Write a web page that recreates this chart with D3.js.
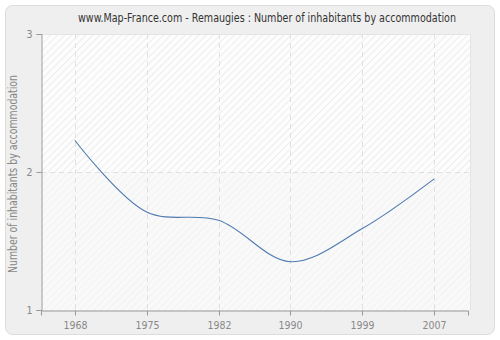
<!DOCTYPE html>
<html><head><meta charset="utf-8">
<script src="https://cdn.jsdelivr.net/npm/d3@7"></script>
<style>body{margin:0;background:#fff;}svg{display:block;font-family:"DejaVu Sans Condensed","DejaVu Sans",sans-serif;}</style>
</head><body><svg id="c" width="500" height="340"></svg>
<script>
const years = ["1968","1975","1982","1990","1999","2007"];
const values = [2.23, 1.71, 1.65, 1.35, 1.59, 1.95];
const yTicks = [1, 2, 3];
const title = "www.Map-France.com - Remaugies : Number of inhabitants by accommodation";
const yLabel = "Number of inhabitants by accommodation";

const svg = d3.select("#c");
const L = 41, R = 471, T = 34, B = 310;

const defs = svg.append("defs");
const p1 = defs.append("pattern").attr("id","h1").attr("patternUnits","userSpaceOnUse")
  .attr("width",5).attr("height",5).attr("patternTransform","rotate(45)");
p1.append("rect").attr("width",5).attr("height",5).attr("fill","#fdfdfd");
p1.append("line").attr("x1",0).attr("y1",0).attr("x2",0).attr("y2",5).attr("stroke","#e8e8e8").attr("stroke-width",1.5);
const p2 = defs.append("pattern").attr("id","h2").attr("patternUnits","userSpaceOnUse")
  .attr("width",5).attr("height",5).attr("patternTransform","rotate(45)");
p2.append("rect").attr("width",5).attr("height",5).attr("fill","#f9f9f9");
p2.append("line").attr("x1",0).attr("y1",0).attr("x2",0).attr("y2",5).attr("stroke","#f0f0f0").attr("stroke-width",1.5);

svg.append("rect").attr("x",5.5).attr("y",5.5).attr("width",489).attr("height",329)
  .attr("rx",7).attr("fill","#efefef").attr("stroke","#dcdcdc");

const x = d3.scalePoint().domain(years).range([L, R-3]).padding(0.47);
const y = d3.scaleLinear().domain([1, 3]).range([B, T]);

svg.append("rect").attr("x",L).attr("y",y(3)).attr("width",R-L).attr("height",y(2)-y(3)).attr("fill","url(#h1)");
svg.append("rect").attr("x",L).attr("y",y(2)).attr("width",R-L).attr("height",y(1)-y(2)).attr("fill","url(#h2)");
svg.append("path").attr("d",`M${L},${T+0.5}H${R-0.5}V${B}`).attr("fill","none").attr("stroke","#e4e4e4");

// grid
svg.append("g").selectAll("line").data(years).join("line")
  .attr("x1",d=>Math.round(x(d))+0.5).attr("x2",d=>Math.round(x(d))+0.5).attr("y1",T).attr("y2",B)
  .attr("stroke","#e0e0e0").attr("stroke-dasharray","5,4");
svg.append("g").selectAll("line").data(yTicks.filter(v=>v>1&&v<3)).join("line")
  .attr("x1",L).attr("x2",R).attr("y1",d=>y(d)+0.5).attr("y2",d=>y(d)+0.5)
  .attr("stroke","#e0e0e0").attr("stroke-dasharray","5,4");

// axes
const ya = svg.append("g").attr("transform",`translate(${L+0.5},0)`)
  .call(d3.axisLeft(y).tickValues(yTicks).tickFormat(d3.format("d")).tickSize(5).tickPadding(4));
const xa = svg.append("g").attr("transform",`translate(0,${B+0.5})`)
  .call(d3.axisBottom(x).tickSize(5).tickPadding(6));
xa.selectAll(".tick").attr("transform",d=>`translate(${Math.round(x(d))+0.5},0)`);
[ya,xa].forEach(a=>{
  a.select(".domain").attr("stroke","#999");
  a.selectAll(".tick line").attr("stroke","#999");
  a.selectAll(".tick text").attr("fill","#888").attr("font-size",10.5).attr("font-family","DejaVu Sans Condensed, sans-serif");
});

// line
svg.append("path").datum(values)
  .attr("d", d3.line().x((d,i)=>x(years[i])).y(d=>y(d)).curve(d3.curveCatmullRom))
  .attr("fill","none").attr("stroke","#4e7ab0").attr("stroke-width",1.1);

svg.append("text").attr("x",267).attr("y",22).attr("text-anchor","middle")
  .attr("font-size",11.5).attr("fill","#333").attr("textLength",378).attr("lengthAdjust","spacingAndGlyphs").text(title);
svg.append("text").attr("transform",`translate(17,174) rotate(-90)`).attr("text-anchor","middle")
  .attr("font-size",11.5).attr("fill","#888").attr("textLength",198).attr("lengthAdjust","spacingAndGlyphs").text(yLabel);
</script></body></html>
